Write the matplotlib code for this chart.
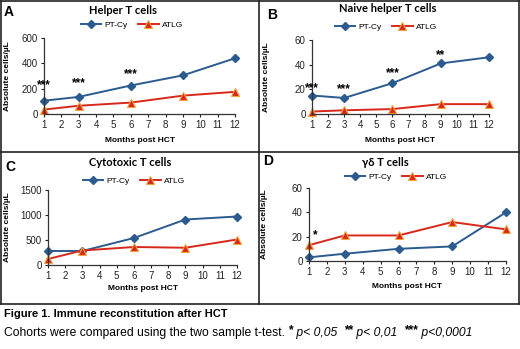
import matplotlib
matplotlib.use("Agg")
from matplotlib import pyplot as plt
from matplotlib.lines import Line2D

plt.rcParams['font.family'] = ['Liberation Sans', 'DejaVu Sans']

W, H = 520, 349

months = [1, 3, 6, 9, 12]

helper_ptcy = [105, 135, 225, 305, 440]
helper_atlg = [35, 65, 90, 145, 175]
naive_ptcy = [15, 13, 25, 41, 46]
naive_atlg = [2, 3, 4, 8, 8]
cyto_ptcy = [280, 280, 540, 910, 970]
cyto_atlg = [120, 290, 360, 345, 510]
gd_ptcy = [3, 6, 10, 12, 40]
gd_atlg = [13, 21, 21, 32, 26]

# significance marks: (month, y value, text)
helper_stars = [(1, 230, "***"), (3, 240, "***"), (6, 315, "***")]
naive_stars = [(1, 21, "***"), (3, 20, "***"), (6, 33, "***"), (9, 48, "**")]
cyto_stars = []
gd_stars = [(1.35, 21, "*")]

BLUE = '#2B5B8F'
RED = '#D8281C'
EDGE = '#F2A23A'


def px_axes(fig, x0, x1, y_top, y_bot):
    return fig.add_axes([x0 / W, 1 - y_bot / H, (x1 - x0) / W, (y_bot - y_top) / H])


def panel(fig, box, ymax, ystep, ptcy, atlg, stars, title, letter, title_xy, letter_xy, leg_y, xlab_y, ylab_x):
    ax = px_axes(fig, *box)
    ax.plot(months, ptcy, '-', color=BLUE, lw=1.4, marker='D', ms=4.5, mfc=BLUE, mec=BLUE, label='PT-Cy')
    ax.plot(months, atlg, '-', color=RED, lw=1.4, marker='^', ms=6, mfc=RED, mec=EDGE, mew=0.8, label='ATLG')
    ax.set_xlim(1, 12)
    ax.set_ylim(0, ymax)
    ax.set_xticks(range(1, 13))
    ax.set_yticks(range(0, ymax + 1, ystep))
    ax.tick_params(labelsize=7, length=2.5, width=0.8, pad=2, colors='#222222')
    for s in ['top', 'right']:
        ax.spines[s].set_visible(False)
    for s in ['left', 'bottom']:
        ax.spines[s].set_linewidth(0.9)
        ax.spines[s].set_color('#333333')
    for line in ax.lines:
        line.set_clip_on(False)
    for m, v, t in stars:
        ax.text(m, v, t, ha='center', va='center', fontsize=8.5, fontweight='bold')

    fig.text(title_xy[0] / W, 1 - title_xy[1] / H, title, ha='center', va='center',
             fontsize=8, fontweight='bold', family=['Lato', 'DejaVu Sans'])
    fig.text(letter_xy[0] / W, 1 - letter_xy[1] / H, letter, ha='left', va='center',
             fontsize=10, fontweight='bold')
    fig.text(box[0] / W + (box[1] - box[0]) / W / 2, 1 - xlab_y / H, 'Months post HCT',
             ha='center', va='center', fontsize=6, fontweight='bold')
    fig.text(ylab_x / W, 1 - (box[2] + box[3]) / 2 / H, 'Absolute cells/\u00b5L', rotation=90,
             ha='center', va='center', fontsize=6, fontweight='bold')
    fig.legend(handles=ax.lines, loc='center', ncol=2, frameon=False,
               bbox_to_anchor=(leg_y[0] / W, 1 - leg_y[1] / H),
               fontsize=6, handlelength=2.5, columnspacing=1.2, handletextpad=0.4,
               borderpad=0)
    return ax


fig = plt.figure(figsize=(W / 100, H / 100), dpi=100)

panel(fig, (44, 235, 38, 114), 600, 200, helper_ptcy, helper_atlg, helper_stars,
      'Helper T cells', 'A', (123, 10), (4, 12), (132, 25), 140, 8)
panel(fig, (312, 489, 40, 114), 60, 20, naive_ptcy, naive_atlg, naive_stars,
      'Naive helper T cells', 'B', (388, 9), (267, 15), (386, 27), 140, 266)
panel(fig, (48, 237, 190, 265), 1500, 500, cyto_ptcy, cyto_atlg, cyto_stars,
      'Cytotoxic T cells', 'C', (130, 163), (5, 167), (134, 181), 288, 8)
panel(fig, (309, 506, 188, 261), 60, 20, gd_ptcy, gd_atlg, gd_stars,
      '\u03b3\u03b4 T cells', 'D', (385, 162), (263, 161), (396, 177), 287, 265)

# panel borders
for xs, ys in [((1, 519), (1, 1)), ((1, 519), (304, 304)), ((1, 1), (1, 304)),
               ((519, 519), (1, 304)), ((1, 519), (152, 152)), ((259, 259), (1, 304))]:
    fig.add_artist(Line2D([x / W for x in xs], [1 - y / H for y in ys], color='#222222', lw=1.2))

fig.text(4 / W, 1 - 314 / H, 'Figure 1. Immune reconstitution after HCT', ha='left', va='center',
         fontsize=8, fontweight='bold')

# caption line 2 built from pieces
pieces = [
    ('Cohorts were compared using the two sample t-test. ', {}, 0),
    ('*', {'fontweight': 'bold'}, 3),
    (' p< 0,05  ', {'style': 'italic'}, 0),
    ('**', {'fontweight': 'bold'}, 3),
    (' p< 0,01  ', {'style': 'italic'}, 0),
    ('***', {'fontweight': 'bold'}, 3),
    (' p<0,0001', {'style': 'italic'}, 0),
]
renderer = fig.canvas.get_renderer()
x = 4
for txt, kw, dy in pieces:
    t = fig.text(x / W, 1 - (336 - dy) / H, txt, ha='left', va='baseline', fontsize=8.7, **kw)
    bb = t.get_window_extent(renderer)
    x += bb.width

fig.savefig('out.png', dpi=100)
